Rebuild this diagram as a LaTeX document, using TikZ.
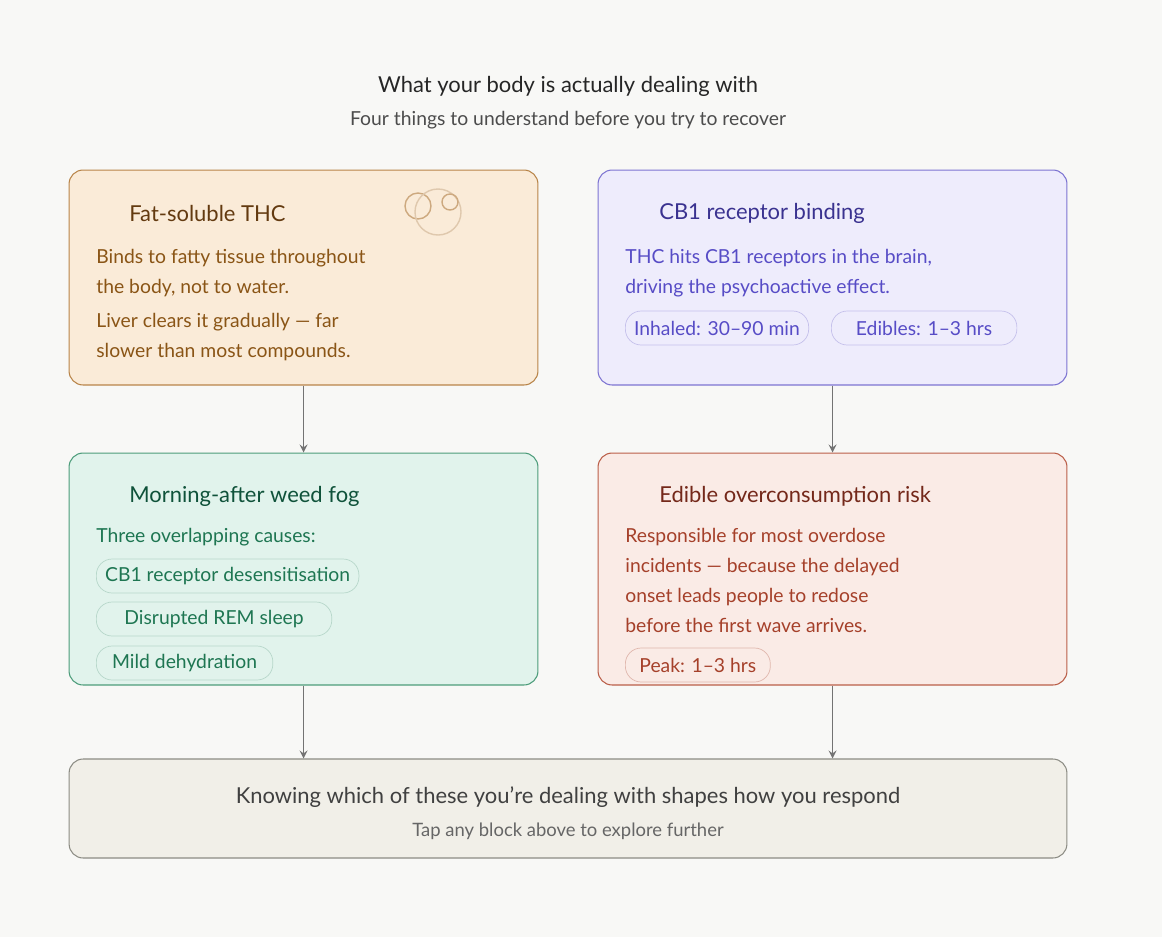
\documentclass[tikz,border=0pt]{standalone}
\usepackage{fontspec}
\setmainfont{Lato}
\usetikzlibrary{positioning}
\definecolor{bgc}{HTML}{F8F8F6}
\definecolor{fatfill}{HTML}{FAEBD8}\definecolor{fatline}{HTML}{B88448}
\definecolor{fathead}{HTML}{633A10}\definecolor{fattext}{HTML}{8A5516}
\definecolor{cbfill}{HTML}{EEECFC}\definecolor{cbline}{HTML}{7D74D2}
\definecolor{cbhead}{HTML}{3A3290}\definecolor{cbtext}{HTML}{574CC6}
\definecolor{fogfill}{HTML}{E1F3EC}\definecolor{fogline}{HTML}{4C9C7A}
\definecolor{foghead}{HTML}{0F523A}\definecolor{fogtext}{HTML}{1E7652}
\definecolor{edfill}{HTML}{FAEBE6}\definecolor{edline}{HTML}{BA5E48}
\definecolor{edhead}{HTML}{74281A}\definecolor{edtext}{HTML}{A5402A}
\definecolor{endfill}{HTML}{F1EFE8}\definecolor{endline}{HTML}{8C8C84}
\tikzset{
  box/.style={draw, rounded corners=8pt, line width=0.6pt, minimum width=9.38cm},
  headtxt/.style={anchor=west, inner sep=0pt, font=\fontsize{12.5}{14}\selectfont},
  bodytxt/.style={anchor=north west, inner sep=0pt, align=left, font=\fontsize{11}{17}\selectfont},
  pill/.style={draw, rounded corners=9pt, anchor=west, inner xsep=5pt, minimum height=0.68cm, font=\fontsize{11}{13}\selectfont},
  flow/.style={-stealth, draw=black!55, line width=1pt}
}
\begin{document}
\begin{tikzpicture}[x=0.02cm, y=-0.02cm]
\fill[bgc] (0,0) rectangle (1162,937);
\useasboundingbox (0,0) rectangle (1162,937);
% heading
\node[font=\fontsize{12.5}{14}\selectfont, text=black!85] (title) at (568,86) {What your body is actually dealing with};
\node[font=\fontsize{11}{13}\selectfont, text=black!70] (sub) at (568,120) {Four things to understand before you try to recover};
% boxes
\node[box, fill=fatfill, draw=fatline, minimum height=4.3cm] (fat) at (303.5,277.5) {};
\node[box, fill=cbfill, draw=cbline, minimum height=4.3cm] (cb) at (832.5,277.5) {};
\node[box, fill=fogfill, draw=fogline, minimum height=4.64cm] (fog) at (303.5,569) {};
\node[box, fill=edfill, draw=edline, minimum height=4.64cm] (ed) at (832.5,569) {};
\node[box, fill=endfill, draw=endline, minimum width=19.96cm, minimum height=1.98cm] (end) at (568,808.5) {};
% fat-soluble
\draw[fatline!70, line width=0.8pt] (418,206) circle (13);
\draw[fatline!45, line width=0.8pt] (438,212) circle (23);
\draw[fatline!70, line width=0.8pt] (450,202) circle (8);
\node[headtxt, text=fathead] (fath) at (129,213) {Fat-soluble THC};
\node[bodytxt, text=fattext] (fatb) at (96,249) {Binds to fatty tissue throughout\\the body, not to water.};
\node[bodytxt, text=fattext] (fatc) at (96,313) {Liver clears it gradually — far\\slower than most compounds.};
% CB1
\node[headtxt, text=cbhead] (cbh) at (659,213) {CB1 receptor binding};
\node[bodytxt, text=cbtext] (cbb) at (625,249) {THC hits CB1 receptors in the brain,\\driving the psychoactive effect.};
\node[pill, text=cbtext, draw=cbline!45] (inh) at (625,328) {Inhaled: 30–90 min};
\node[pill, text=cbtext, draw=cbline!45, inner xsep=14pt] (edi) at (831,328) {Edibles: 1–3 hrs};
% fog
\node[headtxt, text=foghead] (fogh) at (129,496) {Morning-after weed fog};
\node[bodytxt, text=fogtext] (fogb) at (96,528) {Three overlapping causes:};
\node[pill, text=fogtext, draw=fogline!40] (des) at (96,576) {CB1 receptor desensitisation};
\node[pill, text=fogtext, draw=fogline!40, inner xsep=16pt] (rem) at (96,619) {Disrupted REM sleep};
\node[pill, text=fogtext, draw=fogline!40, inner xsep=9pt] (dehy) at (96,663) {Mild dehydration};
% edibles
\node[headtxt, text=edhead] (edh) at (659,496) {Edible overconsumption risk};
\node[bodytxt, text=edtext] (edb) at (625,528) {Responsible for most overdose\\incidents — because the delayed\\onset leads people to redose\\before the first wave arrives.};
\node[pill, text=edtext, draw=edline!45, inner xsep=8pt] (peak) at (625,665) {Peak: 1–3 hrs};
% summary
\node[font=\fontsize{12.5}{14}\selectfont, text=black!75] (endh) at (568,797) {Knowing which of these you’re dealing with shapes how you respond};
\node[font=\fontsize{10.5}{12}\selectfont, text=black!60] (endb) at (568,831) {Tap any block above to explore further};
% connectors
\draw[flow] (fat.south) -- (fog.north);
\draw[flow] (cb.south) -- (ed.north);
\draw[flow] (fog.south) -- (fog.south |- end.north);
\draw[flow] (ed.south) -- (ed.south |- end.north);
\end{tikzpicture}
\end{document}
